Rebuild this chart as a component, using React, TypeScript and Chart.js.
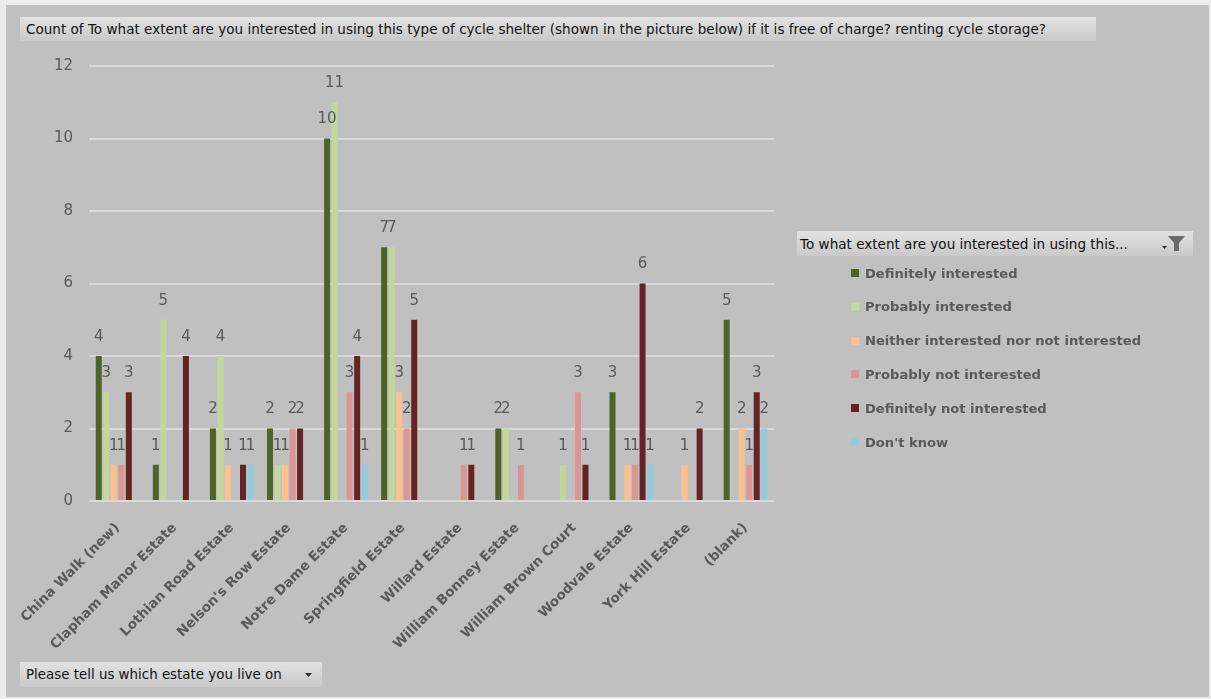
import React, { useEffect, useRef } from "react";
import { Chart, registerables } from "chart.js";

Chart.register(...registerables);

const categories = [
  "China Walk (new)",
  "Clapham Manor Estate",
  "Lothian Road Estate",
  "Nelson's Row Estate",
  "Notre Dame Estate",
  "Springfield Estate",
  "Willard Estate",
  "William Bonney Estate",
  "William Brown Court",
  "Woodvale Estate",
  "York Hill Estate",
  "(blank)",
];

const seriesNames = [
  "Definitely interested",
  "Probably interested",
  "Neither interested nor not interested",
  "Probably not interested",
  "Definitely not interested",
  "Don't know",
];

const seriesColors = ["#4F6228", "#C3D69B", "#FAC090", "#D99694", "#632523", "#93CDDD"];

const definitelyInterested = [4, 1, 2, 2, 10, 7, null, 2, null, 3, null, 5];
const probablyInterested = [3, 5, 4, 1, 11, 7, null, 2, 1, null, null, null];
const neitherInterested = [1, null, 1, 1, null, 3, null, null, null, 1, 1, 2];
const probablyNotInterested = [1, null, null, 2, 3, 2, 1, 1, 3, 1, null, 1];
const definitelyNotInterested = [3, 4, 1, 2, 4, 5, 1, null, 1, 6, 2, 3];
const dontKnow = [null, null, 1, null, 1, null, null, null, null, 1, null, 2];

const seriesValues = [
  definitelyInterested,
  probablyInterested,
  neitherInterested,
  probablyNotInterested,
  definitelyNotInterested,
  dontKnow,
];

const yTicks = [0, 2, 4, 6, 8, 10, 12];

const titleText =
  "Count of To what extent are you interested in using this type of cycle shelter (shown in the picture below) if it is free of charge? renting cycle storage?";
const legendHeader = "To what extent are you interested in using this...";
const axisButtonText = "Please tell us which estate you live on";

const LABEL_COLOR = "#595959";

const dataLabelPlugin = {
  id: "dataLabels",
  afterDatasetsDraw(chart: any) {
    const ctx = chart.ctx;
    ctx.save();
    ctx.font = "15px 'DejaVu Sans', sans-serif";
    ctx.fillStyle = LABEL_COLOR;
    ctx.textAlign = "center";
    ctx.textBaseline = "middle";
    chart.data.datasets.forEach((ds: any, di: number) => {
      const meta = chart.getDatasetMeta(di);
      meta.data.forEach((el: any, i: number) => {
        const v = ds.data[i];
        if (v === null || v === undefined) return;
        ctx.fillText(String(v), el.x, el.y - 19);
      });
    });
    ctx.restore();
  },
};

export default function App() {
  const canvasRef = useRef<HTMLCanvasElement | null>(null);

  useEffect(() => {
    const canvas = canvasRef.current;
    if (!canvas) return;
    const chart = new Chart(canvas, {
      type: "bar",
      data: {
        labels: categories,
        datasets: seriesNames.map((name, i) => ({
          label: name,
          data: seriesValues[i] as any,
          backgroundColor: seriesColors[i],
          borderWidth: 0,
          categoryPercentage: 0.79,
          barPercentage: 0.8,
        })),
      },
      options: {
        responsive: false,
        animation: false,
        devicePixelRatio: 1,
        layout: { padding: { top: 66, right: 437, bottom: 0, left: 0 } },
        plugins: {
          legend: { display: false },
          tooltip: { enabled: false },
          title: { display: false },
        },
        scales: {
          x: {
            grid: { display: false },
            border: { display: false },
            ticks: {
              autoSkip: false,
              maxRotation: 45,
              minRotation: 45,
              color: LABEL_COLOR,
              padding: 11,
              font: { family: "'DejaVu Sans', sans-serif", size: 13.5, weight: "bold" },
            },
            afterFit: (s: any) => {
              s.height = 198;
            },
          },
          y: {
            min: 0,
            max: 12,
            afterBuildTicks: (s: any) => {
              s.ticks = yTicks.map((v) => ({ value: v }));
            },
            ticks: {
              color: LABEL_COLOR,
              padding: 16,
              font: { family: "'DejaVu Sans', sans-serif", size: 15 },
            },
            grid: { color: "#D9D9D9", lineWidth: 2, drawTicks: false },
            border: { display: false },
            afterFit: (s: any) => {
              s.width = 89;
            },
          },
        },
      },
      plugins: [dataLabelPlugin],
    });
    return () => chart.destroy();
  }, []);

  const boxStyle: React.CSSProperties = {
    position: "absolute",
    background: "linear-gradient(to bottom, #e2e2e2, #c9c9c9)",
    fontFamily: "'DejaVu Sans', sans-serif",
    color: "#111",
    boxSizing: "border-box",
    whiteSpace: "nowrap",
    display: "flex",
    alignItems: "center",
  };

  return (
    <div
      style={{
        position: "absolute",
        left: 0,
        top: 0,
        width: 1211,
        height: 699,
        background: "#ececec",
        overflow: "hidden",
      }}
    >
      <div
        style={{
          position: "absolute",
          left: 6,
          top: 5,
          width: 1203,
          height: 692,
          background: "#C0C0C0",
        }}
      />
      <canvas
        ref={canvasRef}
        width={1211}
        height={699}
        style={{ position: "absolute", left: 0, top: 0, width: 1211, height: 699 }}
      />
      <div style={{ ...boxStyle, left: 20, top: 17, width: 1076, height: 24, paddingLeft: 6, fontSize: 13.55 }}>
        {titleText}
      </div>
      <div style={{ ...boxStyle, left: 797, top: 231, width: 396, height: 25, paddingLeft: 3, fontSize: 13.55 }}>
        <span>{legendHeader}</span>
        <svg width="30" height="20" style={{ position: "absolute", right: 4, top: 3 }}>
          <polygon points="3,12 8,12 5.5,15" fill="#333" />
          <polygon points="9,2 26,2 20,9 20,17 15,17 15,9" fill="#6a6a6a" />
        </svg>
      </div>
      {seriesNames.map((name, i) => (
        <div
          key={name}
          style={{
            position: "absolute",
            left: 851,
            top: 273 + i * 33.8 - 10,
            height: 20,
            display: "flex",
            alignItems: "center",
            whiteSpace: "nowrap",
            fontFamily: "'DejaVu Sans', sans-serif",
            fontWeight: "bold",
            fontSize: 13.1,
            color: LABEL_COLOR,
          }}
        >
          <span style={{ display: "inline-block", width: 8, height: 8, background: seriesColors[i], marginRight: 6 }} />
          <span>{name}</span>
        </div>
      ))}
      <div style={{ ...boxStyle, left: 20, top: 662, width: 302, height: 25, paddingLeft: 6, fontSize: 13.4 }}>
        <span>{axisButtonText}</span>
        <svg width="10" height="8" style={{ position: "absolute", right: 8, top: 9 }}>
          <polygon points="1,2 8,2 4.5,6" fill="#333" />
        </svg>
      </div>
    </div>
  );
}
